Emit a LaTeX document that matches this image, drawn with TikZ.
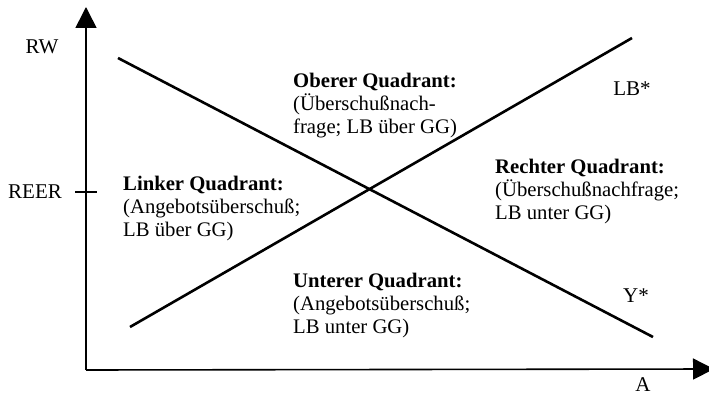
\documentclass[tikz,border=0pt]{standalone}
\usepackage{fontspec}
\setmainfont{Liberation Serif}
\usetikzlibrary{arrows.meta}
\begin{document}
\begin{tikzpicture}[x=1pt,y=-1pt,
  axis/.style={line width=1.6pt,-{Triangle[length=21pt,width=21pt]}},
  curve/.style={line width=2.6pt},
  lbl/.style={inner sep=0pt,font=\fontsize{21}{23}\selectfont},
  quad/.style={inner sep=0pt,anchor=north west,align=left,font=\fontsize{20.7}{23}\selectfont}]
\useasboundingbox (0,0) rectangle (709,395);
\coordinate (o) at (86,370);
\coordinate (ytip) at (86,7);
\coordinate (xtip) at (714,369);
\draw[axis] (o) -- (ytip);
\draw[axis] (o) -- (xtip);
\coordinate (t1) at (75,192);
\coordinate (t2) at (97,192);
\draw[line width=1.6pt] (t1) -- (t2);
\coordinate (y1) at (118,58);
\coordinate (y2) at (653,337);
\draw[curve] (y1) -- (y2);
\coordinate (l1) at (130,327);
\coordinate (l2) at (632,38);
\draw[curve] (l1) -- (l2);
\node[lbl] (rw) at (42,47) {RW};
\node[lbl] (reer) at (35,192) {REER};
\node[lbl] (a) at (643,385) {A};
\node[lbl] (lb) at (632,89) {LB*};
\node[lbl] (ys) at (636,296) {Y*};
\node[quad] (ob) at (293,73) {\textbf{Oberer Quadrant:}\\(Überschußnach-\\frage; LB über GG)};
\node[quad] (li) at (123,176) {\textbf{Linker Quadrant:}\\(Angebotsüberschuß;\\LB über GG)};
\node[quad] (re) at (495,159) {\textbf{Rechter Quadrant:}\\(Überschußnachfrage;\\LB unter GG)};
\node[quad] (un) at (293,273) {\textbf{Unterer Quadrant:}\\(Angebotsüberschuß;\\LB unter GG)};
\end{tikzpicture}
\end{document}
